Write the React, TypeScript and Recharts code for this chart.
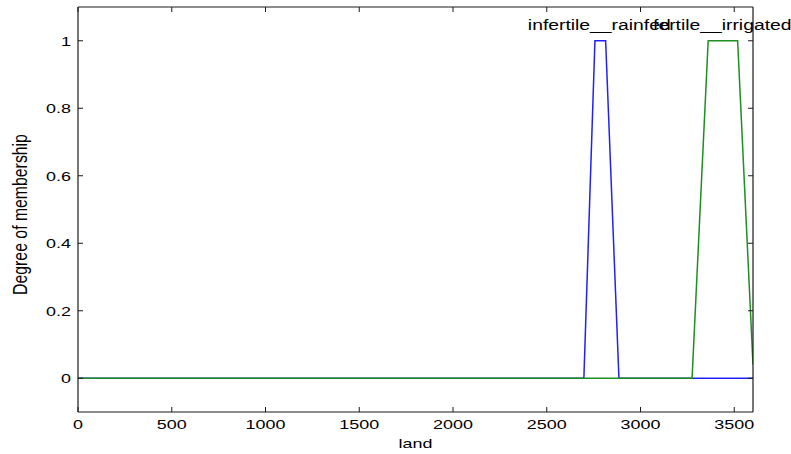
import React from "react";
import { LineChart, Line, XAxis, YAxis, ReferenceDot } from "recharts";

// membership functions of "land"
const rainfedX = [0, 2698, 2757, 2814, 2885, 3600];
const rainfedY = [0, 0, 1, 1, 0, 0];
const irrigatedX = [0, 3275, 3361, 3518, 3600];
const irrigatedY = [0, 0, 1, 1, 0.04];

const xTicks = [0, 500, 1000, 1500, 2000, 2500, 3000, 3500];
const yTicks = [0, 0.2, 0.4, 0.6, 0.8, 1];

const mfLabels = [
  { name: "infertile__rainfed", x: 2780, color: "#2020ff" },
  { name: "fertile__irrigated", x: 3436, color: "#1f8f1f" },
];

const rainfed = rainfedX.map((x, i) => ({ x, y: rainfedY[i] }));
const irrigated = irrigatedX.map((x, i) => ({ x, y: irrigatedY[i] }));

const FONT = "'Liberation Sans', Arial, Helvetica, sans-serif";
const SX = 1.38;
const AXIS = "#1a1a1a";

function StretchText({ x, y, anchor = "middle", size = 13, children }: any) {
  return (
    <text
      transform={`translate(${x},${y}) scale(${SX},1)`}
      textAnchor={anchor}
      fontSize={size}
      fontFamily={FONT}
      fill="#000"
    >
      {children}
    </text>
  );
}

const BottomTick = ({ x, y, payload }: any) => (
  <g>
    <line x1={x} x2={x} y1={y} y2={y - 5} stroke={AXIS} />
    <StretchText x={x} y={y + 17}>{payload.value}</StretchText>
  </g>
);

const TopTick = ({ x, y }: any) => <line x1={x} x2={x} y1={y} y2={y + 5} stroke={AXIS} />;

const LeftTick = ({ x, y, payload }: any) => (
  <g>
    <line x1={x} x2={x + 5} y1={y} y2={y} stroke={AXIS} />
    <StretchText x={x - 7} y={y + 5} anchor="end">{String(payload.value)}</StretchText>
  </g>
);

const RightTick = ({ x, y }: any) => <line x1={x} x2={x - 5} y1={y} y2={y} stroke={AXIS} />;

export default function App() {
  return (
    <div style={{ width: 791, height: 454, background: "#fff" }}>
      <style>{`body{margin:0}`}</style>
      <LineChart width={791} height={454} margin={{ top: 0, right: 0, bottom: 0, left: 0 }}>
        <XAxis
          dataKey="x"
          type="number"
          domain={[0, 3600]}
          ticks={xTicks}
          allowDataOverflow
          height={42}
          tickSize={0}
          tickMargin={0}
          tickLine={false}
          tick={<BottomTick />}
          axisLine={{ stroke: AXIS, strokeWidth: 1.2 }}
          label={{
            content: ({ viewBox }: any) => (
              <StretchText x={viewBox.x + viewBox.width / 2} y={viewBox.y + 36}>land</StretchText>
            ),
          }}
        />
        <XAxis
          xAxisId="top"
          orientation="top"
          dataKey="x"
          type="number"
          domain={[0, 3600]}
          ticks={xTicks}
          allowDataOverflow
          height={7}
          tickSize={0}
          tickMargin={0}
          tickLine={false}
          tick={<TopTick />}
          axisLine={{ stroke: AXIS, strokeWidth: 1.2 }}
        />
        <YAxis
          type="number"
          domain={[-0.1, 1.1]}
          ticks={yTicks}
          allowDataOverflow
          width={78}
          tickSize={0}
          tickMargin={0}
          tickLine={false}
          tick={<LeftTick />}
          axisLine={{ stroke: AXIS, strokeWidth: 1.2 }}
          label={{
            content: ({ viewBox }: any) => {
              const cy = viewBox.y + viewBox.height / 2 + 5;
              return (
                <text
                  transform={`translate(27,${cy}) rotate(-90) scale(1.13,${SX})`}
                  textAnchor="middle"
                  fontSize={14}
                  fontFamily={FONT}
                  fill="#000"
                >
                  Degree of membership
                </text>
              );
            },
          }}
        />
        <YAxis
          yAxisId="right"
          orientation="right"
          type="number"
          domain={[-0.1, 1.1]}
          ticks={yTicks}
          allowDataOverflow
          width={38}
          tickSize={0}
          tickMargin={0}
          tickLine={false}
          tick={<RightTick />}
          axisLine={{ stroke: AXIS, strokeWidth: 1.2 }}
        />
        <Line
          data={rainfed}
          dataKey="y"
          type="linear"
          stroke="#2020ff"
          strokeWidth={1.5}
          dot={false}
          isAnimationActive={false}
        />
        <Line
          data={irrigated}
          dataKey="y"
          type="linear"
          stroke="#1f8f1f"
          strokeWidth={1.5}
          dot={false}
          isAnimationActive={false}
        />
        {mfLabels.map((m) => (
          <ReferenceDot
            key={m.name}
            x={m.x}
            y={1}
            r={0}
            fill="none"
            stroke="none"
            label={{
              content: ({ viewBox }: any) => (
                <StretchText x={viewBox.x} y={viewBox.y - 11} size={14}>{m.name}</StretchText>
              ),
            }}
          />
        ))}
      </LineChart>
    </div>
  );
}
